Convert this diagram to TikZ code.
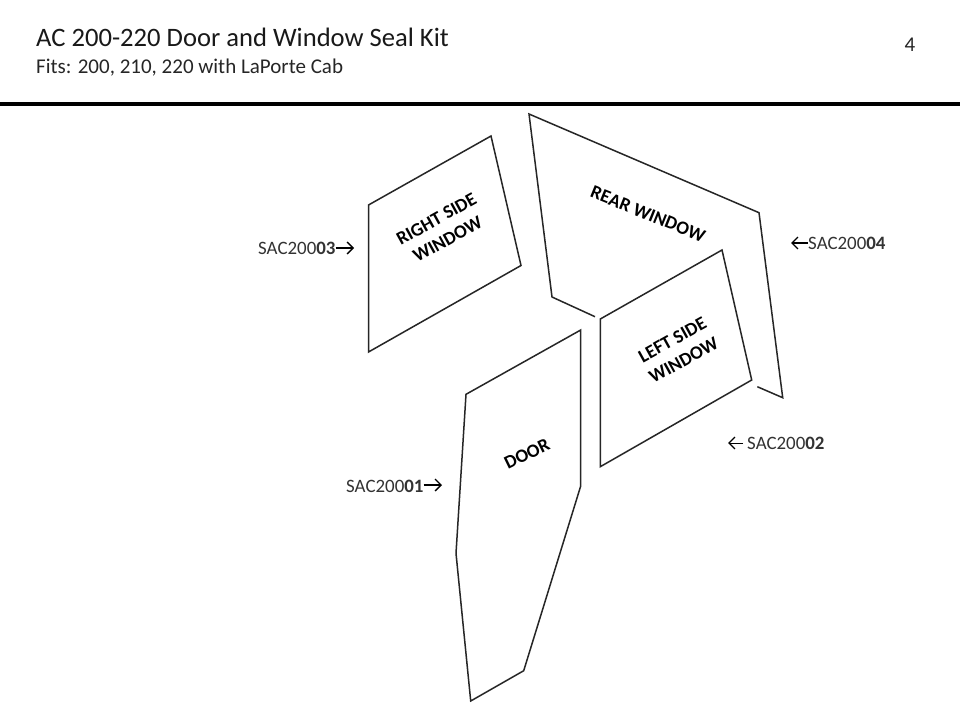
\documentclass[tikz,border=0pt]{standalone}
\usepackage{fontspec}
\setmainfont{Carlito}
\usetikzlibrary{arrows.meta}
\tikzset{
  seal/.style={draw=black!85,line width=1.5pt,line join=miter},
  part/.style={font=\bfseries\fontsize{18.8}{23}\selectfont,align=center,inner sep=0pt,text=black},
  code/.style={font=\fontsize{18.9}{20}\selectfont,inner sep=0pt,text=black!80,anchor=base west},
  point/.style={line width=1.3pt,-{Straight Barb[length=6pt,width=12pt,line width=1.3pt]}},
}
\begin{document}
\begin{tikzpicture}[x=1pt,y=-1pt]
\useasboundingbox (0,0) rectangle (960,720);
\fill[white] (0,0) rectangle (960,720);
\node[anchor=base west,inner sep=0pt,font=\fontsize{26.6}{28}\selectfont,text=black!90] (title) at (36,46) {AC 200-220 Door and Window Seal Kit};
\node[anchor=base west,inner sep=0pt,font=\fontsize{21}{22}\selectfont,text=black!85] (sub) at (36,73) {Fits: 200, 210, 220 with LaPorte Cab};
\node[anchor=base,inner sep=0pt,font=\fontsize{21}{22}\selectfont,text=black!85] (page) at (910,51) {4};
\fill[black] (0,102) rectangle (960,106);
% right side window
\draw[seal] (368.5,205) -- (491,136) -- (521,265.5) -- (368.5,352) -- cycle;
% rear window (open)
\draw[seal] (595,316.7) -- (552,297) -- (529,114) -- (759,212.7) -- (782.7,397.7) -- (757.3,386.7);
% left side window
\draw[seal] (600.3,319) -- (722,250) -- (751.7,380) -- (600.3,466.7) -- cycle;
% door
\draw[seal] (580.7,330) -- (580.7,486) -- (523.7,670.7) -- (470.7,701) -- (456,553.3) -- (466,394.3) -- cycle;
\node[part,rotate=29] (rsw) at (442,229) {RIGHT SIDE\\WINDOW};
\node[part,rotate=-22] (rw) at (648,214) {REAR WINDOW};
\node[part,rotate=29] (lsw) at (678,350) {LEFT SIDE\\WINDOW};
\node[part,rotate=26] (door) at (527,454) {DOOR};
\node[code] (c3) at (258,254) {SAC200\textbf{03}};
\coordinate (t3) at (354,248);
\draw[point] (c3.east |- t3) -- (t3);
\node[code] (c1) at (346,492) {SAC200\textbf{01}};
\coordinate (t1) at (442,485);
\draw[point] (c1.east |- t1) -- (t1);
\node[code] (c4) at (808,249) {SAC200\textbf{04}};
\coordinate (t4) at (791,243);
\draw[point] (c4.west |- t4) -- (t4);
\node[code] (c2) at (747,449) {SAC200\textbf{02}};
\coordinate (t2) at (728,443);
\draw[point,line width=1pt] (c2.west |- t2) ++(-4,0) -- (t2);
\end{tikzpicture}
\end{document}
